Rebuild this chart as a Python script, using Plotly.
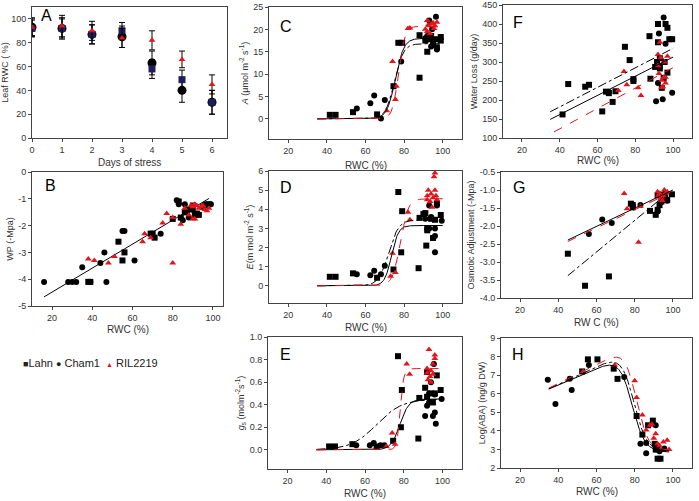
import numpy as np
import plotly.graph_objects as go

W, H = 699, 501

# ---------------- DATA ----------------
# Panel A: Leaf RWC over days of stress
days = [0, 1, 2, 3, 4, 5, 6]
a_lahn = [92, 92, 87, 90, 58, 49, 30]
a_lahn_err = [7, 8, 8, 7, 8, 8, 10]
a_cham = [93, 92, 87, 85, 63, 40, 30]
a_cham_err = [8, 9, 8, 9, 10, 10, 10]
a_ril = [93, 94, 90, 84, 82, 66, 45]
a_ril_err = [7, 9, 8, 8, 8, 7, 8]

# Panel B: WP vs RWC
b_lahn_x = [38, 39, 53, 55, 56, 69, 70, 71, 80, 84, 86, 88, 90, 91, 92, 93, 95, 97, 98, 83, 87]
b_lahn_y = [-4.1, -4.1, -2.6, -3.3, -3.0, -2.3, -2.3, -2.45, -1.75, -1.7, -1.5, -1.4, -1.25, -1.6, -1.55, -1.6, -1.3, -1.25, -1.2, -1.1, -1.5]
b_cham_x = [16, 28, 30, 32, 35, 39, 44, 46, 47, 55, 56, 61, 74, 82, 83, 85, 86, 88, 96, 99, 90]
b_cham_y = [-4.1, -4.1, -4.1, -4.1, -3.55, -4.1, -3.4, -3.0, -4.1, -2.2, -2.2, -3.3, -2.3, -1.05, -1.2, -1.8, -1.2, -1.7, -1.2, -1.2, -1.4]
b_ril_x = [38, 41, 48, 51, 65, 66, 69, 75, 77, 80, 80, 84, 86, 88, 89, 90, 90, 91, 92, 93, 94, 95, 96, 97, 98, 91]
b_ril_y = [-3.25, -3.3, -3.4, -3.15, -2.6, -2.3, -2.45, -1.9, -1.55, -3.4, -1.7, -1.95, -1.35, -1.6, -1.25, -1.3, -1.75, -1.2, -1.25, -1.35, -1.3, -1.25, -1.4, -1.45, -1.35, -1.75]
b_fit_x = [16, 98]
b_fit_y = [-4.66, -0.99]

# Panel C: A vs RWC
c_lahn_x = [41.5, 44.5, 53.5, 66, 74.5, 77, 79, 88, 88, 91, 92, 93, 95, 96, 97, 99, 99, 94, 92.5]
c_lahn_y = [0.9, 0.9, 1.5, 1.0, 7.3, 17, 17, 9.2, 18.7, 17.5, 15, 17.8, 16.5, 17.8, 16, 17.5, 18.3, 18.5, 18.2]
c_cham_x = [55.5, 62.5, 64.5, 68, 70, 78.5, 92, 93, 94, 96.5, 97, 95, 91, 94.5]
c_cham_y = [2.3, 3.5, 5.2, 0.1, 4.2, 12.8, 18.5, 22, 16.2, 22.8, 15.5, 17, 18, 20]
c_ril_x = [71, 74, 75.5, 76, 82, 83, 91, 92, 92.5, 93, 94, 95, 96, 97, 92, 93.5, 95.5]
c_ril_y = [1.8, 12.8, 4.3, 7.3, 20.2, 20.3, 20, 19.5, 21, 20.8, 21.2, 21.5, 20.8, 21.6, 22, 19, 20.2]
# sigmoid fit parameters: [amplitude, midpoint, slope]
c_fit_solid = [18.0, 75.5, 2.2]
c_fit_dashdot = [16.8, 75.0, 2.3]
c_fit_red = [20.7, 77.2, 1.6]

# Panel D: E vs RWC
d_lahn_x = [41.5, 44.5, 53.5, 66, 74.5, 77, 78.5, 79, 87.5, 88, 90, 91, 92, 92, 94, 96, 97, 99, 91.5, 95]
d_lahn_y = [0.47, 0.47, 0.65, 0.42, 0.85, 4.9, 1.75, 3.9, 0.92, 3.55, 3.75, 3.8, 2.9, 3.0, 3.5, 3.45, 4.3, 3.7, 2.1, 2.5]
d_cham_x = [55.5, 62.5, 64.5, 68, 70, 91, 93, 94, 95, 96, 96, 99.5, 93, 96, 97]
d_cham_y = [0.6, 0.55, 0.78, 0.6, 1.05, 3.5, 4.2, 3.6, 2.5, 2.6, 1.75, 3.4, 3.0, 3.0, 4.2]
d_ril_x = [73, 74, 75.5, 82, 83, 92, 92.5, 93, 93.5, 94, 95, 95.5, 96, 96.5, 94.5, 92, 96, 97]
d_ril_y = [0.5, 1.7, 0.7, 3.85, 3.45, 4.7, 5.0, 6.3, 4.4, 4.8, 4.6, 5.7, 5.9, 4.7, 4.1, 4.5, 5.0, 4.5]
d_fit_solid = [3.15, 73.5, 1.8]
d_fit_dashdot = [3.45, 72.0, 2.6]
d_fit_red = [4.55, 78.0, 2.0]

# Panel E: gs vs RWC
e_lahn_x = [41.5, 44.5, 53.5, 66, 74.5, 77, 78.5, 79, 87.5, 88, 91, 92, 92, 94, 96, 97, 99, 95]
e_lahn_y = [0.03, 0.03, 0.05, 0.03, 0.08, 0.83, 0.2, 0.53, 0.1, 0.46, 0.55, 0.47, 0.69, 0.5, 0.5, 0.66, 0.53, 0.42]
e_cham_x = [55.5, 62.5, 64.5, 68, 70, 91, 92, 93, 94, 95, 96, 96.5, 99.5, 95.5, 93, 96]
e_cham_y = [0.04, 0.04, 0.06, 0.04, 0.04, 0.3, 0.39, 0.42, 0.6, 0.3, 0.33, 0.23, 0.45, 0.76, 0.5, 0.49]
e_ril_x = [71, 74, 75.5, 81.5, 83, 92, 92.5, 93, 93.5, 94, 95, 96, 96, 92, 95, 94]
e_ril_y = [0.03, 0.15, 0.05, 0.76, 0.67, 0.68, 0.62, 0.89, 0.65, 0.7, 0.76, 0.84, 0.81, 0.72, 0.67, 0.6]
e_fit_solid = [0.45, 78.0, 2.3]
e_fit_dashdot = [0.45, 66.0, 6.5]
e_fit_red = [0.72, 78.2, 0.9]

# Panel F: Water loss vs RWC
f_lahn_x = [41.5, 44.5, 53.5, 55.5, 62.5, 64.5, 66, 68, 69.5, 74.5, 77, 79, 79, 87.5, 88, 90.5, 91.5, 92, 92, 93, 93, 94, 95.5, 96, 97, 97, 98, 99.5, 95]
f_lahn_y = [162, 242, 235, 240, 170, 222, 218, 195, 223, 340, 305, 250, 255, 368, 256, 287, 300, 352, 400, 310, 283, 232, 300, 400, 390, 272, 360, 360, 258]
f_cham_x = [91, 92, 92.5, 94.5, 95, 96, 99.5, 66, 93]
f_cham_y = [197, 245, 375, 202, 417, 348, 219, 222, 290]
f_ril_x = [71, 74, 75.5, 81.5, 83, 92, 92.5, 93, 93.5, 94, 94, 95, 95.5, 96, 96, 97, 92, 94.5]
f_ril_y = [225, 275, 240, 232, 212, 320, 270, 352, 312, 252, 233, 260, 300, 260, 245, 315, 290, 235]
f_fit_dashdot_x = [35, 100]
f_fit_dashdot_y = [169, 336]
f_fit_solid_x = [35, 100]
f_fit_solid_y = [149, 313]
f_fit_red_x = [37, 100]
f_fit_red_y = [116, 285]

# Panel G: Osmotic adjustment vs RWC
g_lahn_x = [45, 54, 66.5, 78, 79, 79, 88, 91, 92, 93, 94, 95, 96, 97, 99.5, 92]
g_lahn_y = [-2.77, -3.66, -3.4, -1.38, -1.42, -1.48, -1.58, -1.69, -1.55, -1.42, -1.32, -1.25, -1.12, -1.28, -1.12, -1.15]
g_cham_x = [56, 63, 68, 83, 92, 93, 94, 95, 96, 97]
g_cham_y = [-2.22, -1.82, -1.92, -1.42, -1.6, -1.12, -1.33, -1.2, -1.1, -1.3]
g_ril_x = [74.5, 76, 82, 83, 92, 93, 93.5, 94, 95, 95.5, 96, 97, 94.5, 92.5]
g_ril_y = [-1.1, -1.52, -2.45, -1.45, -1.05, -1.1, -1.25, -1.2, -1.15, -1.0, -1.1, -1.05, -1.3, -1.15]
g_fit_solid_x = [45, 100]
g_fit_solid_y = [-2.39, -1.0]
g_fit_red_x = [45, 97]
g_fit_red_y = [-2.43, -1.12]
g_fit_dashdot_x = [45, 97]
g_fit_dashdot_y = [-3.38, -1.1]

# Panel H: Log(ABA) vs RWC
h_lahn_x = [52.5, 55.5, 60.5, 69, 71, 81, 84, 87, 89.5, 90.5, 91.5, 92, 93.5, 91]
h_lahn_y = [7.2, 7.85, 7.85, 7.35, 6.8, 4.8, 3.8, 4.3, 4.55, 3.3, 3.0, 2.5, 2.5, 3.0]
h_cham_x = [34.5, 38.5, 46, 47, 56, 74.5, 83, 86, 86, 91, 92, 93, 95.5]
h_cham_y = [6.75, 5.45, 6.8, 6.2, 7.55, 6.9, 3.3, 2.8, 3.35, 4.3, 3.1, 2.9, 3.05]
h_ril_x = [53, 69.5, 80, 81, 84, 86, 89, 90, 91, 93, 95, 97, 98, 88, 92]
h_ril_y = [7.2, 7.55, 6.7, 5.8, 4.85, 4.05, 4.35, 3.6, 3.85, 3.2, 3.4, 3.5, 3.0, 4.3, 3.3]
# peak fit parameters: [floor, start value at x=35, slope, midpoint, width]
h_fit_solid = [2.85, 6.25, 0.045, 78.3, 3.3]
h_fit_dashdot = [2.9, 6.27, 0.048, 79.3, 3.3]
h_fit_red = [2.95, 6.3, 0.052, 80.5, 3.0]

legend_names = ["Lahn", "Cham1", "RIL2219"]

# ---------------- STYLE ----------------
BLACK = "#000000"
RED = "#e3141b"
NAVY = "#1e1e5a"
FONT = "Liberation Sans, Arial, sans-serif"
TICKC = "#333333"


def sig(p, x0, x1):
    x = np.linspace(x0, x1, 200)
    a, m, s = p
    return x, a / (1 + np.exp(-(x - m) / s))


def peak(p, x0, x1):
    x = np.linspace(x0, x1, 200)
    c, v0, k, m, s = p
    lin = v0 + k * (x - 35)
    return x, c + (lin - c) / (1 + np.exp((x - m) / s))


fig = go.Figure()

# panel pixel boxes: (left, top, right, bottom)
boxes = {
    1: (32, 7, 227, 138),
    2: (32, 172, 223, 306),
    3: (269, 7, 462, 139),
    4: (269, 171, 462, 303),
    5: (268, 337, 462, 469),
    6: (503, 5, 692, 138),
    7: (501, 172, 692, 298),
    8: (501, 338, 692, 468),
}
# x-title vertical pixel centres
xtitle_y = {1: 162, 2: 329, 3: 165, 4: 327, 5: 493, 6: 160, 7: 322, 8: 491}


def ax(i):
    return ("x" if i == 1 else f"x{i}"), ("y" if i == 1 else f"y{i}")


def pts(i, x, y, kind):
    xa, ya = ax(i)
    if kind == "lahn":
        m = dict(symbol="square", size=6, color=BLACK)
    elif kind == "cham":
        m = dict(symbol="circle", size=6, color=BLACK)
    else:
        m = dict(symbol="triangle-up", size=6, color=RED)
    fig.add_trace(go.Scatter(x=x, y=y, mode="markers", marker=m, xaxis=xa, yaxis=ya,
                             showlegend=False, hoverinfo="skip"))


def line(i, x, y, color, dash):
    xa, ya = ax(i)
    fig.add_trace(go.Scatter(x=list(x), y=list(y), mode="lines",
                             line=dict(color=color, width=1, dash=dash),
                             xaxis=xa, yaxis=ya, showlegend=False, hoverinfo="skip"))


# Panel A
eb = lambda e: dict(type="data", array=e, color=BLACK, thickness=1, width=3)
fig.add_trace(go.Scatter(x=days, y=a_cham, error_y=eb(a_cham_err), mode="markers",
                         marker=dict(symbol="circle", size=9, color=BLACK), showlegend=False))
fig.add_trace(go.Scatter(x=days, y=a_lahn, error_y=eb(a_lahn_err), mode="markers",
                         marker=dict(symbol="square", size=7, color=NAVY), showlegend=False))
fig.add_trace(go.Scatter(x=days, y=a_ril, error_y=eb(a_ril_err), mode="markers",
                         marker=dict(symbol="triangle-up", size=6, color=RED), showlegend=False))

# Panel B
line(2, b_fit_x, b_fit_y, BLACK, "solid")
pts(2, b_cham_x, b_cham_y, "cham")
pts(2, b_lahn_x, b_lahn_y, "lahn")
pts(2, b_ril_x, b_ril_y, "ril")

# Panel C
pts(3, c_lahn_x, c_lahn_y, "lahn")
pts(3, c_cham_x, c_cham_y, "cham")
pts(3, c_ril_x, c_ril_y, "ril")
line(3, *sig(c_fit_solid, 35, 100), BLACK, "solid")
line(3, *sig(c_fit_dashdot, 35, 100), BLACK, "dashdot")
line(3, *sig(c_fit_red, 35, 100), RED, "dash")

# Panel D
pts(4, d_lahn_x, d_lahn_y, "lahn")
pts(4, d_cham_x, d_cham_y, "cham")
pts(4, d_ril_x, d_ril_y, "ril")
line(4, *sig(d_fit_solid, 35, 100), BLACK, "solid")
line(4, *sig(d_fit_dashdot, 35, 100), BLACK, "dashdot")
line(4, *sig(d_fit_red, 35, 100), RED, "dash")

# Panel E
pts(5, e_lahn_x, e_lahn_y, "lahn")
pts(5, e_cham_x, e_cham_y, "cham")
pts(5, e_ril_x, e_ril_y, "ril")
line(5, *sig(e_fit_solid, 35, 100), BLACK, "solid")
line(5, *sig(e_fit_dashdot, 35, 100), BLACK, "dashdot")
line(5, *sig(e_fit_red, 35, 100), RED, "dash")

# Panel F
pts(6, f_lahn_x, f_lahn_y, "lahn")
pts(6, f_cham_x, f_cham_y, "cham")
pts(6, f_ril_x, f_ril_y, "ril")
line(6, f_fit_dashdot_x, f_fit_dashdot_y, BLACK, "dashdot")
line(6, f_fit_solid_x, f_fit_solid_y, BLACK, "solid")
line(6, f_fit_red_x, f_fit_red_y, RED, "dash")

# Panel G
pts(7, g_lahn_x, g_lahn_y, "lahn")
pts(7, g_cham_x, g_cham_y, "cham")
pts(7, g_ril_x, g_ril_y, "ril")
line(7, g_fit_solid_x, g_fit_solid_y, BLACK, "solid")
line(7, g_fit_red_x, g_fit_red_y, RED, "dash")
line(7, g_fit_dashdot_x, g_fit_dashdot_y, BLACK, "dashdot")

# Panel H
pts(8, h_lahn_x, h_lahn_y, "lahn")
pts(8, h_cham_x, h_cham_y, "cham")
pts(8, h_ril_x, h_ril_y, "ril")
line(8, *peak(h_fit_solid, 35, 98), BLACK, "solid")
line(8, *peak(h_fit_dashdot, 35, 98), BLACK, "dashdot")
line(8, *peak(h_fit_red, 35, 98), RED, "dash")

# axes
rwc_ticks = [20, 40, 60, 80, 100]
specs = {
    1: dict(xr=[0, 6.5], yr=[0, 110], xt=days, yt=[0, 20, 40, 60, 80, 100],
            ytt=None, xtitle="Days of stress", ytitle="Leaf RWC ( %)"),
    2: dict(xr=[10, 105], yr=[-5, 0], xt=rwc_ticks, yt=[0, -1, -2, -3, -4, -5],
            ytt=["0", "-1", "-2", "-3", "-4", "-5"], xtitle="RWC (%)", ytitle="WP (-Mpa)"),
    3: dict(xr=[10, 110], yr=[-4.5, 25], xt=rwc_ticks, yt=[0, 5, 10, 15, 20, 25],
            ytt=None, xtitle="RWC (%)",
            ytitle="<i>A</i> (µmol m<sup>-2</sup> s<sup>-1</sup>)"),
    4: dict(xr=[10, 110], yr=[-0.9, 6], xt=rwc_ticks, yt=[0, 1, 2, 3, 4, 5, 6],
            ytt=None, xtitle="RWC (%)",
            ytitle="<i>E</i>(m mol m<sup>-2</sup> s<sup>-1</sup>)"),
    5: dict(xr=[10, 110], yr=[-0.17, 1.0], xt=rwc_ticks, yt=[0, 0.2, 0.4, 0.6, 0.8, 1.0],
            ytt=["0.0", "0.2", "0.4", "0.6", "0.8", "1.0"], xtitle="RWC (%)",
            ytitle="<i>g</i><sub>s</sub> (molm<sup>-2</sup>s<sup>-1</sup>)"),
    6: dict(xr=[10, 110], yr=[100, 450], xt=rwc_ticks,
            yt=[100, 150, 200, 250, 300, 350, 400, 450], ytt=None,
            xtitle="RWC (%)", ytitle="Water Loss (g/day)"),
    7: dict(xr=[10, 110], yr=[-4.0, -0.5], xt=rwc_ticks,
            yt=[-4.0, -3.5, -3.0, -2.5, -2.0, -1.5, -1.0, -0.5],
            ytt=["-4.0", "-3.5", "-3.0", "-2.5", "-2.0", "-1.5", "-1.0", "-0.5"],
            xtitle="RW C (%)", ytitle="Osmotic Adjustment (-Mpa)"),
    8: dict(xr=[10, 110], yr=[2, 9], xt=rwc_ticks, yt=[2, 3, 4, 5, 6, 7, 8, 9],
            ytt=None, xtitle="RWC (%)", ytitle="Log(ABA) (ng/g DW)"),
}

layout = {}
annotations = []
for i, (l, t, r, b) in boxes.items():
    s = specs[i]
    xk = "xaxis" if i == 1 else f"xaxis{i}"
    yk = "yaxis" if i == 1 else f"yaxis{i}"
    xa, ya = ax(i)
    common = dict(showline=True, linecolor="#444444", linewidth=1, mirror=True,
                  ticks="outside", ticklen=3, tickwidth=1, tickcolor="#444444",
                  showgrid=False, zeroline=False, automargin=False,
                  tickfont=dict(family=FONT, size=9, color=TICKC))
    layout[xk] = dict(domain=[l / W, r / W], anchor=ya, range=s["xr"],
                      tickvals=s["xt"], **common)
    ydict = dict(domain=[1 - b / H, 1 - t / H], anchor=xa, range=s["yr"],
                 tickvals=s["yt"],
                 title=dict(text=s["ytitle"], font=dict(family=FONT, size=9, color=TICKC),
                            standoff=3),
                 **common)
    if s["ytt"] is not None:
        ydict["ticktext"] = s["ytt"]
    layout[yk] = ydict
    # x-axis title placed under the tick labels
    annotations.append(dict(text=s["xtitle"], x=(l + r) / 2 / W, y=1 - xtitle_y[i] / H,
                            xref="paper", yref="paper", showarrow=False,
                            xanchor="center", yanchor="middle",
                            font=dict(family=FONT, size=10, color=TICKC)))

letters = {1: ("A", 46, 16), 2: ("B", 50, 185), 3: ("C", 286, 27), 4: ("D", 286, 187),
           5: ("E", 285, 354), 6: ("F", 518, 22), 7: ("G", 519, 187), 8: ("H", 518, 354)}
for i, (txt, px, py) in letters.items():
    annotations.append(dict(text=txt, x=px / W, y=1 - py / H, xref="paper", yref="paper",
                            showarrow=False, xanchor="center", yanchor="middle",
                            font=dict(family=FONT, size=16, color=BLACK)))

# legend row drawn as text
leg_text = (
    "<span style='font-size:9px'>■</span>" + legend_names[0] + " "
    "<span style='font-size:9px'>●</span> " + legend_names[1] + "  "
    "<span style='font-size:7px;color:" + RED + "'>▲</span> " + legend_names[2]
)
annotations.append(dict(text=leg_text, x=21 / W, y=1 - 363 / H, xref="paper", yref="paper",
                        showarrow=False, xanchor="left", yanchor="middle",
                        font=dict(family=FONT, size=11, color="#222222")))

fig.update_layout(
    width=W, height=H,
    margin=dict(l=0, r=0, t=0, b=0),
    paper_bgcolor="white", plot_bgcolor="white",
    showlegend=False,
    annotations=annotations,
    **layout,
)

fig.write_html("out.html",
               config={"displayModeBar": False},
               post_script="document.body.style.margin='0px';"
                           "document.body.style.overflow='hidden';")
